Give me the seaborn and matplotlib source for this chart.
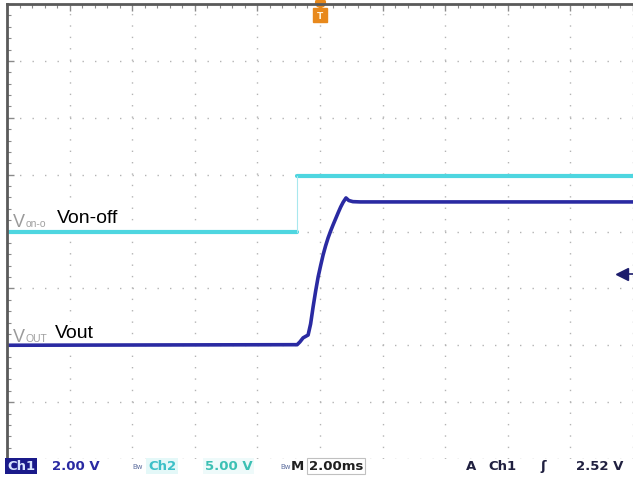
import matplotlib
matplotlib.use("Agg")
import matplotlib.pyplot as plt
import numpy as np
import pandas as pd
import seaborn as sns

# Scope settings
CH1_V_PER_DIV = 2.0
CH2_V_PER_DIV = 5.0
TIME_PER_DIV_MS = 2.0
CH1_OFFSET_DIV = -2.0
CH2_OFFSET_DIV = 0.0
TRIGGER_LEVEL_V = 2.52

# Von-off (Ch2) trace, two flat segments with a step at ~-0.73 ms
von_time_ms = [-10.0, -0.73, -0.73, 10.0]
von_volts = [0.0, 0.0, 4.9, 4.9]
von_segment = [0, 0, 1, 1]

# Vout (Ch1) trace
vout_time_ms = [-10.0, -0.73, -0.64, -0.54, -0.38, -0.30, -0.22, -0.14, -0.06,
                0.02, 0.10, 0.18, 0.26, 0.34, 0.42, 0.50, 0.58, 0.66, 0.74,
                0.83, 0.92, 1.05, 1.28, 10.0]
vout_volts = [0.0, 0.02, 0.12, 0.26, 0.36, 0.75, 1.35, 1.90, 2.40,
              2.80, 3.18, 3.50, 3.78, 4.02, 4.24, 4.45, 4.66, 4.86, 5.03,
              5.18, 5.09, 5.05, 5.04, 5.04]

W, H = 633, 485


def px(x, y):
    return x / W, 1 - y / H


von = pd.DataFrame({"time_ms": von_time_ms, "volts": von_volts, "segment": von_segment})
von["div"] = np.array(von["volts"]) / CH2_V_PER_DIV + CH2_OFFSET_DIV
vout = pd.DataFrame({"time_ms": vout_time_ms, "volts": vout_volts})
vout["div"] = np.array(vout["volts"]) / CH1_V_PER_DIV + CH1_OFFSET_DIV

sns.set_theme(style="white")
fig = plt.figure(figsize=(W / 100, H / 100), dpi=100)
ax = fig.add_axes([7 / W, 1 - 460 / H, 1 - 7 / W, 455 / H])

# graticule
ax.set_xlim(-5 * TIME_PER_DIV_MS, 5 * TIME_PER_DIV_MS)
ax.set_ylim(-4, 4)
ax.set_xticks(np.arange(-10, 10.1, TIME_PER_DIV_MS))
ax.set_yticks(np.arange(-4, 4.1, 1))
ax.set_xticks(np.arange(-10, 10.1, TIME_PER_DIV_MS / 5), minor=True)
ax.set_yticks(np.arange(-4, 4.1, 0.2), minor=True)
ax.xaxis.grid(True, color="#b4b4b4", linewidth=1, linestyle=(0, (1, 7.2)))
ax.yaxis.grid(True, color="#b4b4b4", linewidth=1, linestyle=(0, (1, 8.0)))
ax.tick_params(which="both", direction="in", top=True, left=True, bottom=False,
               right=False, labelleft=False, labelbottom=False, color="#8a8a8a")
ax.tick_params(which="major", length=5, width=1)
ax.tick_params(which="minor", length=3, width=0.8)
for side in ["right", "bottom"]:
    ax.spines[side].set_visible(False)
for side in ["left", "top"]:
    ax.spines[side].set_color("#5a5a5a")
    ax.spines[side].set_linewidth(2)

# traces
sns.lineplot(data=von, x="time_ms", y="div", units="segment", estimator=None,
             color="#4ed6e0", linewidth=3, sort=False, ax=ax)
edge = von[von["time_ms"] == von["time_ms"].iloc[1]]
ax.plot(edge["time_ms"], edge["div"], color="#a8e8ee", linewidth=0.8)
sns.lineplot(data=vout, x="time_ms", y="div", estimator=None, color="#2a2aa2",
             linewidth=2.6, sort=False, ax=ax)
ax.set_xlabel("")
ax.set_ylabel("")

# trigger markers
trig_div = TRIGGER_LEVEL_V / CH1_V_PER_DIV + CH1_OFFSET_DIV
ax.plot([9.65, 10.0], [trig_div, trig_div], color="#1c1c6c", linewidth=1.2, clip_on=False)
ax.plot([9.65], [trig_div], marker="<", color="#1c1c6c", markersize=8)
ax.plot([0], [4.04], marker="o", color="#e8891c", markersize=7, clip_on=False)
ax.plot([0], [3.80], marker="s", color="#e8891c", markersize=10, clip_on=False)
ax.text(0, 3.80, "T", color="#fff2d8", fontsize=6.5, fontweight="bold",
        ha="center", va="center")

# channel labels
lab = "Liberation Sans"
fig.text(*px(13, 227), "V", color="#9a9a9a", fontsize=13, family=lab)
fig.text(*px(26, 227), "on-o", color="#a0a0a0", fontsize=7.5, family=lab)
fig.text(*px(57, 223), "Von-off", color="black", fontsize=14, family=lab,
         bbox=dict(facecolor="white", edgecolor="none", pad=1.5))
fig.text(*px(13, 342), "V", color="#9a9a9a", fontsize=13, family=lab)
fig.text(*px(26, 342), "OUT", color="#a0a0a0", fontsize=7.5, family=lab)
fig.text(*px(55, 338), "Vout", color="black", fontsize=14, family=lab,
         bbox=dict(facecolor="white", edgecolor="none", pad=1.5))

# status bar
sy = 467
sb = dict(fontsize=9.5, fontweight="bold", va="center", family="DejaVu Sans")
fig.text(*px(7, sy), "Ch1", color="#d8e4ff",
         bbox=dict(facecolor="#1a1a8a", edgecolor="none", pad=1.2), **sb)
fig.text(*px(52, sy), "2.00 V", color="#2a2aa2", **sb)
fig.text(*px(132, sy), "Bw", color="#6070a0", fontsize=5, va="center")
fig.text(*px(148, sy), "Ch2", color="#3cc0c8",
         bbox=dict(facecolor="#e4f8f8", edgecolor="none", pad=1.2), **sb)
fig.text(*px(205, sy), "5.00 V", color="#3cc0b4",
         bbox=dict(facecolor="#eefafa", edgecolor="none", pad=1.2), **sb)
fig.text(*px(280, sy), "Bw", color="#6070a0", fontsize=5, va="center")
fig.text(*px(291, sy), "M", color="#202020", **sb)
fig.text(*px(309, sy), "2.00ms", color="#202020",
         bbox=dict(facecolor="white", edgecolor="#c0c0c0", pad=1.2, linewidth=0.8), **sb)
fig.text(*px(466, sy), "A", color="#202040", **sb)
fig.text(*px(488, sy), "Ch1", color="#202040", **sb)
fig.text(*px(540, sy), "\u0283", color="#202040", **sb)
fig.text(*px(576, sy), "2.52 V", color="#202040", **sb)

fig.savefig("out.png", dpi=100)
